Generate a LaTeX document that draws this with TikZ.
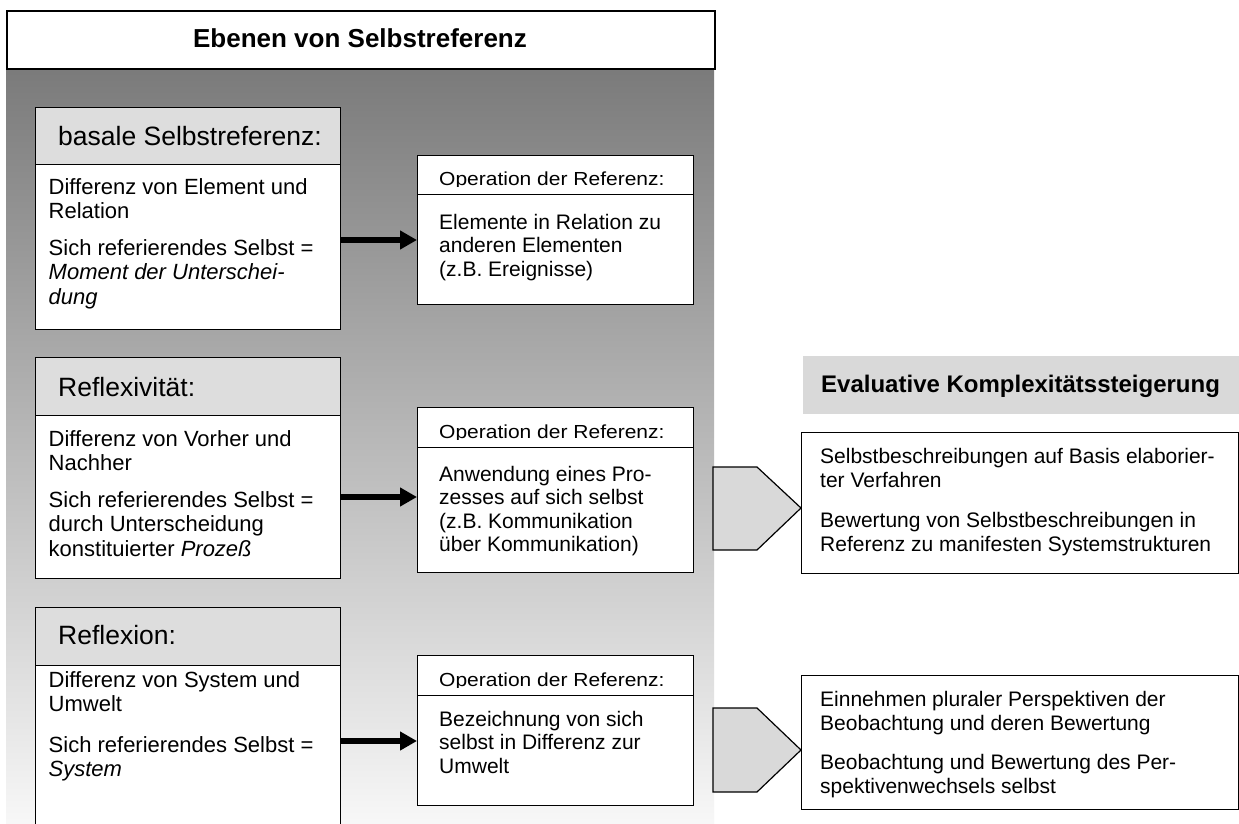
\documentclass[tikz,border=0pt]{standalone}
\usepackage{fontspec}
\setmainfont{Liberation Sans}
\usetikzlibrary{arrows.meta}
\definecolor{hdrgray}{HTML}{DDDDDD}
\definecolor{evalgray}{HTML}{D9D9D9}
\begin{document}
\begin{tikzpicture}[x=1pt,y=-1pt,
  frame/.style={draw=black, line width=1.4pt},
  hdrbox/.style={frame, fill=hdrgray, inner sep=0pt, anchor=north west},
  bodybox/.style={frame, fill=white, inner sep=0pt, anchor=north west},
  hdrtext/.style={font=\fontsize{26.5}{30}\selectfont, inner sep=0pt, anchor=base west},
  bodytext/.style={font=\fontsize{22}{24.5}\selectfont, align=left, inner sep=0pt, anchor=north west, execute at begin node=\strut},
  ophead/.style={font=\fontsize{21}{24}\selectfont, inner sep=0pt, anchor=base west},
  optext/.style={font=\fontsize{21}{23.5}\selectfont, align=left, inner sep=0pt, anchor=north west, execute at begin node=\strut},
  reftext/.style={font=\fontsize{21}{24}\selectfont, align=left, inner sep=0pt, anchor=north west, execute at begin node=\strut},
  thickarrow/.style={line width=6pt, -{Triangle[length=17pt,width=18pt]}},
  pent/.style={draw=black, line width=1.2pt, fill=evalgray, line join=miter},
]
\clip (0,0) rectangle (1239,824);
\fill[white] (0,0) rectangle (1239,824);

% shaded panel behind the three levels
\shade[top color=black!52, bottom color=black!3] (6,68) rectangle (714,824);

% title bar
\node[frame, line width=1.8pt, fill=white, minimum width=708, minimum height=58, inner sep=0pt, anchor=north west] (title) at (6,10) {};
\node[font=\bfseries\fontsize{26}{30}\selectfont, anchor=base, inner sep=0pt] (titletext) at (360,48) {Ebenen von Selbstreferenz};

% level 1: basale Selbstreferenz
\node[hdrbox, minimum width=305, minimum height=57] (h1) at (35,107) {};
\node[bodybox, minimum width=305, minimum height=165] (b1) at (35,164) {};
\node[hdrtext] (h1t) at (58,146) {basale Selbstreferenz:};
\node[bodytext] (b1t) at (48.5,178.3) {Differenz von Element und\\Relation\\[12pt]Sich referierendes Selbst =\\\textit{Moment der Unterschei-}\\\textit{dung}};

% level 2: Reflexivitaet
\node[hdrbox, minimum width=305, minimum height=58] (h2) at (35,357) {};
\node[bodybox, minimum width=305, minimum height=163] (b2) at (35,415) {};
\node[hdrtext] (h2t) at (58,396) {Reflexivität:};
\node[bodytext] (b2t) at (48.5,430.3) {Differenz von Vorher und\\Nachher\\[12pt]Sich referierendes Selbst =\\durch Unterscheidung\\konstituierter \textit{Prozeß}};

% level 3: Reflexion
\node[hdrbox, minimum width=305, minimum height=58] (h3) at (35,607) {};
\node[bodybox, minimum width=305, minimum height=200] (b3) at (35,665) {};
\node[hdrtext] (h3t) at (58,644) {Reflexion:};
\node[bodytext] (b3t) at (48.5,671.3) {Differenz von System und\\Umwelt\\[16pt]Sich referierendes Selbst =\\\textit{System}};

% operation boxes
\node[bodybox, minimum width=276, minimum height=39] (oh1) at (417,155) {};
\node[bodybox, minimum width=276, minimum height=110] (ob1) at (417,194) {};
\node[bodybox, minimum width=276, minimum height=40] (oh2) at (417,407) {};
\node[bodybox, minimum width=276, minimum height=125] (ob2) at (417,447) {};
\node[bodybox, minimum width=276, minimum height=40] (oh3) at (417,655) {};
\node[bodybox, minimum width=276, minimum height=110] (ob3) at (417,695) {};

% header captions, cut off just below the baseline
\begin{scope}
  \clip (oh1.north west) rectangle ([yshift=8.5pt]oh1.south east);
  \node[ophead] (oh1t) at (439,185) {\scalebox{1}[0.9]{Operation der Referenz:}};
\end{scope}
\begin{scope}
  \clip (oh2.north west) rectangle ([yshift=8.5pt]oh2.south east);
  \node[ophead] (oh2t) at (439,438) {\scalebox{1}[0.9]{Operation der Referenz:}};
\end{scope}
\begin{scope}
  \clip (oh3.north west) rectangle ([yshift=8.5pt]oh3.south east);
  \node[ophead] (oh3t) at (439,686) {\scalebox{1}[0.9]{Operation der Referenz:}};
\end{scope}

\node[optext] (ob1t) at (439,214) {Elemente in Relation zu\\anderen Elementen\\(z.B. Ereignisse)};
\node[optext] (ob2t) at (439,466) {Anwendung eines Pro-\\zesses auf sich selbst\\(z.B. Kommunikation\\über Kommunikation)};
\node[optext] (ob3t) at (439,711) {Bezeichnung von sich\\selbst in Differenz zur\\Umwelt};

% arrows from each level to its operation
\coordinate (a1) at (0,240);
\coordinate (a2) at (0,497);
\coordinate (a3) at (0,741);
\draw[thickarrow] (b1.east |- a1) -- (ob1.west |- a1);
\draw[thickarrow] (b2.east |- a2) -- (ob2.west |- a2);
\draw[thickarrow] (b3.east |- a3) -- (ob3.west |- a3);

% evaluative column
\node[fill=evalgray, minimum width=440, minimum height=58, inner sep=0pt, anchor=north west] (eval) at (803,356) {};
\node[font=\bfseries\fontsize{24}{28}\selectfont, anchor=base west, inner sep=0pt] (evalt) at (821,392) {Evaluative Komplexitätssteigerung};

\node[bodybox, minimum width=437, minimum height=141] (r1) at (801,432) {};
\node[reftext] (r1t) at (820,447.7) {Selbstbeschreibungen auf Basis elaborier-\\ter Verfahren\\[16pt]Bewertung von Selbstbeschreibungen in\\Referenz zu manifesten Systemstrukturen};

\node[bodybox, minimum width=437, minimum height=134] (r2) at (801,675) {};
\node[reftext] (r2t) at (820,690.7) {Einnehmen pluraler Perspektiven der\\Beobachtung und deren Bewertung\\[15pt]Beobachtung und Bewertung des Per-\\spektivenwechsels selbst};

% block arrows pointing into the evaluative boxes
\draw[pent] (713,467) -- (757,467) -- (801,508) -- (757,550) -- (713,550) -- cycle;
\draw[pent] (713,708) -- (757,708) -- (801,750) -- (757,792) -- (713,792) -- cycle;
\end{tikzpicture}
\end{document}
